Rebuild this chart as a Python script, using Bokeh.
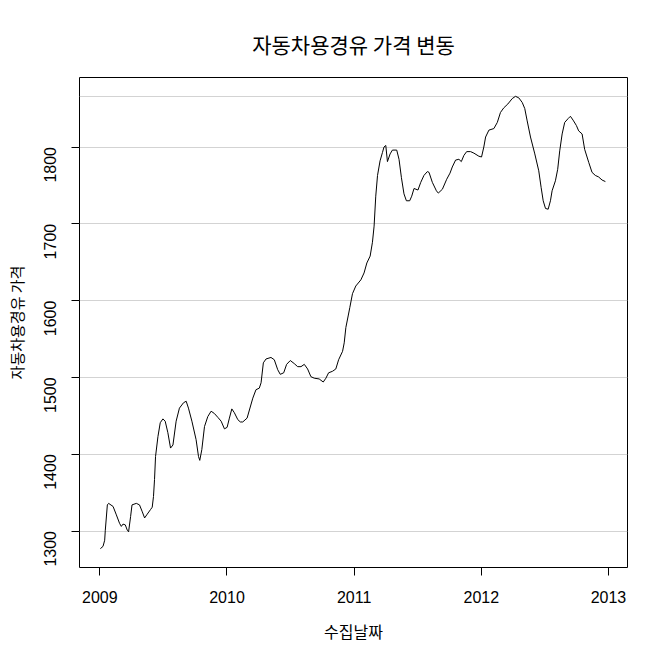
import math
from bokeh.plotting import figure
from bokeh.models import FixedTicker, Range1d
from bokeh.embed import file_html
from bokeh.resources import INLINE

title_text = "자동차용경유 가격 변동"
x_label = "수집날짜"
y_label = "자동차용경유 가격"

x_ticks = [2009, 2010, 2011, 2012, 2013]
y_ticks = [1300, 1400, 1500, 1600, 1700, 1800]

years = [
    2009.004, 2009.025, 2009.038, 2009.043, 2009.059, 2009.069, 2009.104, 2009.130, 2009.155, 2009.169,
    2009.182, 2009.200, 2009.216, 2009.226, 2009.242, 2009.253, 2009.287, 2009.312, 2009.334, 2009.352,
    2009.373, 2009.399, 2009.412, 2009.422, 2009.430, 2009.438, 2009.457, 2009.475, 2009.496, 2009.514,
    2009.535, 2009.556, 2009.575, 2009.600, 2009.626, 2009.658, 2009.679, 2009.697, 2009.724, 2009.757,
    2009.776, 2009.786, 2009.802, 2009.823, 2009.849, 2009.875, 2009.901, 2009.928, 2009.954, 2009.980,
    2010.001, 2010.019, 2010.038, 2010.058, 2010.085, 2010.105, 2010.124, 2010.158, 2010.203, 2010.228,
    2010.254, 2010.268, 2010.286, 2010.307, 2010.346, 2010.372, 2010.399, 2010.419, 2010.446, 2010.469,
    2010.498, 2010.529, 2010.556, 2010.582, 2010.608, 2010.634, 2010.660, 2010.686, 2010.725, 2010.757,
    2010.778, 2010.799, 2010.830, 2010.856, 2010.878, 2010.909, 2010.922, 2010.935, 2010.953, 2010.966,
    2010.987, 2011.013, 2011.053, 2011.078, 2011.100, 2011.126, 2011.144, 2011.157, 2011.170, 2011.184,
    2011.204, 2011.223, 2011.235, 2011.249, 2011.262, 2011.283, 2011.301, 2011.335, 2011.353, 2011.372,
    2011.392, 2011.411, 2011.437, 2011.453, 2011.471, 2011.502, 2011.524, 2011.549, 2011.576, 2011.589,
    2011.615, 2011.647, 2011.662, 2011.694, 2011.728, 2011.754, 2011.772, 2011.798, 2011.824, 2011.843,
    2011.863, 2011.885, 2011.916, 2011.942, 2011.981, 2012.002, 2012.020, 2012.034, 2012.060, 2012.099,
    2012.126, 2012.151, 2012.177, 2012.209, 2012.243, 2012.269, 2012.295, 2012.322, 2012.342, 2012.361,
    2012.387, 2012.421, 2012.452, 2012.471, 2012.487, 2012.505, 2012.526, 2012.544, 2012.557, 2012.583,
    2012.601, 2012.617, 2012.636, 2012.656, 2012.683, 2012.701, 2012.722, 2012.748, 2012.766, 2012.793,
    2012.813, 2012.845, 2012.871, 2012.897, 2012.923, 2012.950, 2012.976,
]

prices = [
    1277, 1280, 1288, 1301, 1334, 1336, 1332, 1321, 1310, 1306,
    1309, 1308, 1301, 1299, 1319, 1334, 1336, 1334, 1325, 1317,
    1322, 1328, 1331, 1345, 1367, 1397, 1423, 1441, 1446, 1443,
    1428, 1408, 1412, 1443, 1460, 1467, 1469, 1460, 1443, 1419,
    1397, 1392, 1406, 1436, 1449, 1456, 1453, 1448, 1443, 1433,
    1435, 1447, 1459, 1454, 1445, 1442, 1442, 1447, 1473, 1484,
    1486, 1493, 1519, 1524, 1526, 1523, 1510, 1504, 1506, 1517,
    1522, 1518, 1514, 1514, 1517, 1511, 1501, 1499, 1498, 1494,
    1499, 1506, 1508, 1511, 1523, 1534, 1545, 1565, 1580, 1591,
    1609, 1619, 1627, 1636, 1649, 1658, 1676, 1697, 1736, 1763,
    1782, 1793, 1800, 1802, 1781, 1791, 1796, 1796, 1784, 1760,
    1739, 1730, 1730, 1736, 1746, 1744, 1754, 1763, 1768, 1767,
    1754, 1743, 1740, 1745, 1758, 1766, 1774, 1783, 1784, 1781,
    1789, 1794, 1794, 1792, 1788, 1787, 1800, 1813, 1822, 1824,
    1832, 1845, 1851, 1856, 1863, 1866, 1864, 1858, 1850, 1834,
    1813, 1791, 1769, 1747, 1730, 1720, 1719, 1730, 1743, 1756,
    1771, 1795, 1817, 1832, 1837, 1840, 1835, 1828, 1821, 1817,
    1797, 1780, 1767, 1763, 1761, 1757, 1755,
]

grid_levels = y_ticks + [max(prices)]

KFONT = "Noto Sans CJK KR"
LFONT = "Liberation Sans"

p = figure(width=650, height=649, output_backend="svg", toolbar_location=None,
           min_border_left=79, min_border_right=23, min_border_top=77, min_border_bottom=82,
           x_range=Range1d(2008.84, 2013.15), y_range=Range1d(1252.5, 1890.5))

p.title.text = title_text
p.title.text_font = KFONT
p.title.text_font_size = "21px"
p.title.text_font_style = "normal"
p.title.text_color = "black"
p.title.align = "center"
p.title.standoff = 37

p.outline_line_color = "black"
p.outline_line_width = 1
p.background_fill_color = "white"
p.border_fill_color = "white"

p.xgrid.grid_line_color = None
p.ygrid.ticker = FixedTicker(ticks=grid_levels)
p.ygrid.grid_line_color = "#D3D3D3"
p.ygrid.grid_line_width = 1

for ax in (p.xaxis[0], p.yaxis[0]):
    ax.axis_line_color = None
    ax.minor_tick_line_color = None
    ax.major_tick_out = 8
    ax.major_tick_in = 0
    ax.major_tick_line_color = "black"
    ax.major_label_text_font = LFONT
    ax.major_label_text_font_size = "16px"
    ax.major_label_text_color = "black"
    ax.axis_label_text_font = KFONT
    ax.axis_label_text_font_style = "normal"
    ax.axis_label_text_color = "black"

p.xaxis.axis_label_text_font_size = "16px"
p.yaxis.axis_label_text_font_size = "15px"
p.xaxis.ticker = FixedTicker(ticks=x_ticks)
p.yaxis.ticker = FixedTicker(ticks=y_ticks)
p.xaxis.axis_label = x_label
p.yaxis.axis_label = y_label
p.xaxis.major_label_standoff = 15
p.yaxis.major_label_standoff = 21
p.yaxis.major_label_orientation = math.pi / 2
p.xaxis.axis_label_standoff = 13
p.yaxis.axis_label_standoff = 9

p.line(years, prices, line_color="black", line_width=1)

open("out.html", "w").write(file_html(p, INLINE))
